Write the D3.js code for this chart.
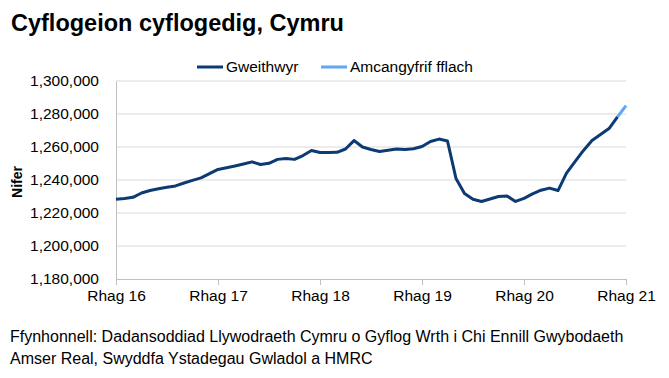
<!DOCTYPE html>
<html>
<head>
<meta charset="utf-8">
<script src="https://cdn.jsdelivr.net/npm/d3@7"></script>
<style>
  body { margin: 0; background: #fff; }
  svg { display: block; font-family: "Liberation Sans", Arial, sans-serif; }
</style>
</head>
<body>
<svg id="chart" width="669" height="378"></svg>
<script>
// monthly employees, Rhag 16 .. Rhag 21 (61 months)
const employees = [
  1228300, 1228800, 1229500, 1232100, 1233600, 1234700, 1235600, 1236400, 1238200, 1239800, 1241300, 1243900,
  1246400, 1247400, 1248500, 1249700, 1251000, 1249400, 1250100, 1252500, 1253000, 1252500, 1254800, 1257900,
  1256700, 1256700, 1256800, 1258800, 1263900, 1260000, 1258500, 1257300, 1258000, 1258800, 1258500, 1258900,
  1260300, 1263300, 1264800, 1263600, 1240900, 1231800, 1228300, 1227000, 1228500, 1230000, 1230300, 1227000,
  1228900, 1231600, 1233800, 1235100, 1233600, 1244200, 1251100, 1257900, 1263900, 1267600, 1271200, 1278200,
  1285100
];
// flash estimate covers the last month
const flashStart = 59;
const xTickLabels = ['Rhag 16', 'Rhag 17', 'Rhag 18', 'Rhag 19', 'Rhag 20', 'Rhag 21'];
const yTicks = [1180000, 1200000, 1220000, 1240000, 1260000, 1280000, 1300000];
const seriesNames = ['Gweithwyr', 'Amcangyfrif fflach'];
const seriesColors = ['#0c3a73', '#5ea7f4'];

const svg = d3.select('#chart');
const plot = { left: 116, right: 626, top: 81, bottom: 279 };

const x = d3.scaleLinear().domain([0, employees.length - 1]).range([plot.left, plot.right]);
const y = d3.scaleLinear().domain([1180000, 1300000]).range([plot.bottom, plot.top]);

// title
svg.append('text')
  .attr('x', 11).attr('y', 31)
  .attr('font-size', 23.5).attr('font-weight', 'bold').attr('fill', '#000')
  .text('Cyflogeion cyflogedig, Cymru');

// gridlines
svg.append('g').selectAll('line').data(yTicks.slice(1)).join('line')
  .attr('x1', plot.left).attr('x2', plot.right)
  .attr('y1', d => y(d)).attr('y2', d => y(d))
  .attr('stroke', '#d9d9d9').attr('stroke-width', 1);

// y axis
const yAxis = svg.append('g').attr('transform', `translate(${plot.left},0)`)
  .call(d3.axisLeft(y).tickValues(yTicks).tickSize(0).tickPadding(17).tickFormat(d3.format(',')));
yAxis.select('.domain').attr('stroke', '#bfbfbf');
yAxis.selectAll('text').attr('font-size', 15.5).attr('fill', '#000').attr('font-family', '"Liberation Sans", Arial, sans-serif');

// x axis
const xAxis = svg.append('g').attr('transform', `translate(0,${plot.bottom})`)
  .call(d3.axisBottom(x).tickValues(xTickLabels.map((d, i) => i * 12))
    .tickSize(6).tickPadding(5).tickFormat((d, i) => xTickLabels[i]));
xAxis.select('.domain').attr('stroke', '#bfbfbf');
xAxis.selectAll('line').attr('stroke', '#bfbfbf');
xAxis.selectAll('text').attr('font-size', 15.5).attr('fill', '#000').attr('font-family', '"Liberation Sans", Arial, sans-serif');

// y label
svg.append('text')
  .attr('transform', 'translate(22,182) rotate(-90)')
  .attr('text-anchor', 'middle')
  .attr('font-size', 14).attr('font-weight', 'bold')
  .text('Nifer');

// lines
const line = d3.line().x(d => x(d[0])).y(d => y(d[1]));
const pts = employees.map((v, i) => [i, v]);

svg.append('path')
  .attr('d', line(pts.slice(0, flashStart + 1)))
  .attr('fill', 'none').attr('stroke', seriesColors[0])
  .attr('stroke-width', 3).attr('stroke-linejoin', 'round');

svg.append('path')
  .attr('d', line(pts.slice(flashStart)))
  .attr('fill', 'none').attr('stroke', seriesColors[1])
  .attr('stroke-width', 3).attr('stroke-linejoin', 'round');

// legend
const legendPos = [197, 321];
const lg = svg.append('g').selectAll('g').data(seriesNames).join('g')
  .attr('transform', (d, i) => `translate(${legendPos[i]},67)`);
lg.append('line').attr('x1', 0).attr('x2', 26)
  .attr('stroke', (d, i) => seriesColors[i]).attr('stroke-width', 3);
lg.append('text').attr('x', 29).attr('dy', '0.35em')
  .attr('font-size', 15.5).text(d => d);

// source
const src = svg.append('text').attr('font-size', 16).attr('fill', '#000');
src.append('tspan').attr('x', 10).attr('y', 342)
  .text('Ffynhonnell: Dadansoddiad Llywodraeth Cymru o Gyflog Wrth i Chi Ennill Gwybodaeth');
src.append('tspan').attr('x', 10).attr('y', 364)
  .text('Amser Real, Swyddfa Ystadegau Gwladol a HMRC');
</script>
</body>
</html>
